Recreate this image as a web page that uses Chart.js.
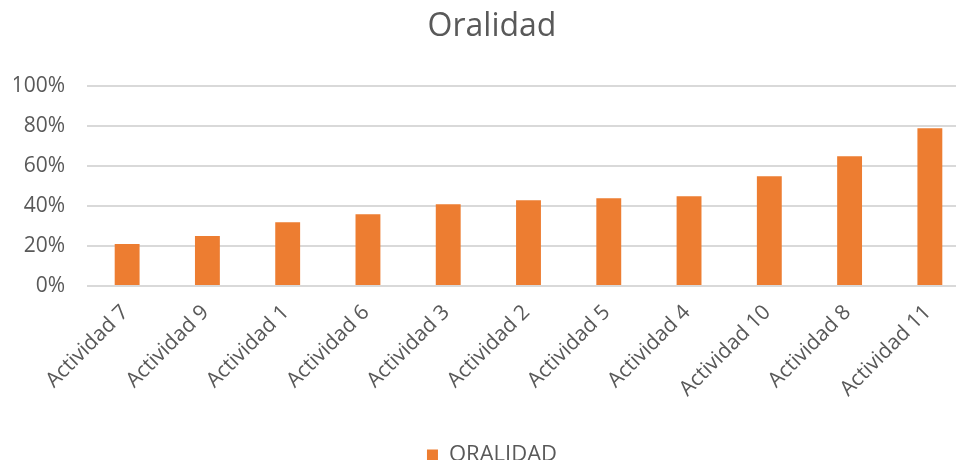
<!DOCTYPE html>
<html>
<head>
<meta charset="utf-8">
<script src="https://cdn.jsdelivr.net/npm/chart.js@4"></script>
<style>
  html, body { margin: 0; padding: 0; background: #fff; overflow: hidden; }
  #wrap { width: 956px; height: 460px; overflow: hidden; }
</style>
</head>
<body>
<div id="wrap"><canvas id="oralidad-chart" width="990" height="476"></canvas></div>
<script>
// Datos del gráfico
const actividades = [
    "Actividad 7", "Actividad 9", "Actividad 1", "Actividad 6", "Actividad 3", "Actividad 2",
    "Actividad 5", "Actividad 4", "Actividad 10", "Actividad 8", "Actividad 11"
];
const oralidad = [21, 25, 32, 36, 41, 43, 44, 45, 55, 65, 79];
const yTicks = [0, 20, 40, 60, 80, 100];

const textColor = "#595959";
const fontFamily = "'Open Sans', 'Noto Sans', sans-serif";

const ctx = document.getElementById("oralidad-chart").getContext("2d");

new Chart(ctx, {
    type: "bar",
    data: {
        labels: actividades,
        datasets: [
            {
                label: "ORALIDAD",
                data: oralidad,
                backgroundColor: "#ED7D31",
                borderWidth: 0,
                categoryPercentage: 1,
                barPercentage: 0.31
            }
        ]
    },
    options: {
        responsive: false,
        animation: false,
        layout: { padding: { left: 14, right: 20, top: 0, bottom: 0 } },
        plugins: {
            title: {
                display: true,
                text: "Oralidad",
                color: textColor,
                font: { family: fontFamily, size: 32, weight: "normal" },
                padding: { top: 8, bottom: 40 }
            },
            legend: {
                display: true,
                position: "bottom",
                labels: {
                    color: textColor,
                    font: { family: fontFamily, size: 22 },
                    boxWidth: 11,
                    boxHeight: 11,
                    padding: 6
                }
            },
            tooltip: { enabled: false }
        },
        scales: {
            x: {
                grid: { display: false, drawTicks: false },
                border: { display: false },
                afterFit: (scale) => {
                    scale.height = 152;
                },
                ticks: {
                    color: textColor,
                    font: { family: fontFamily, size: 21 },
                    maxRotation: 45,
                    minRotation: 45,
                    padding: 14,
                    labelOffset: -2
                }
            },
            y: {
                min: 0,
                max: 100,
                afterBuildTicks: (scale) => {
                    scale.ticks = yTicks.map((v) => ({ value: v }));
                },
                afterFit: (scale) => {
                    scale.width = 73;
                },
                grid: { color: "#D9D9D9", lineWidth: 2, drawTicks: false },
                border: { display: false },
                ticks: {
                    color: textColor,
                    font: { family: fontFamily, size: 21 },
                    padding: 22,
                    callback: (v) => v + "%"
                }
            }
        }
    }
});
</script>
</body>
</html>
